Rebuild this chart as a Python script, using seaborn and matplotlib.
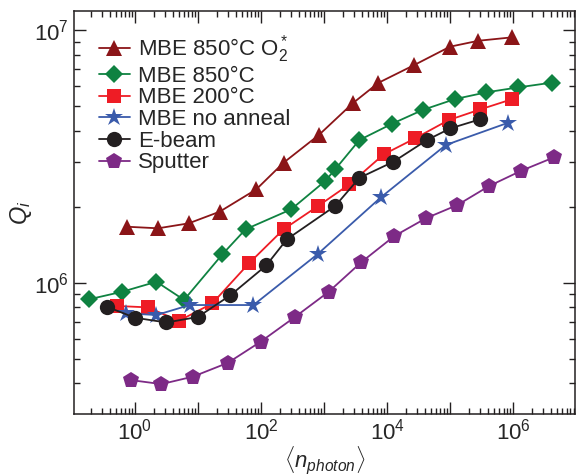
"""Q_i vs mean photon number for several film growth methods"""

import math
import matplotlib
matplotlib.use('Agg')
import matplotlib.pyplot as plt
import matplotlib.ticker as mticker
import seaborn as sns

# Data (x: <n_photon>, y: Q_i) #######################################################
labels = ['MBE 850°C O$_2^*$', 'MBE 850°C', 'MBE 200°C',
          'MBE no anneal', 'E-beam', 'Sputter']

o2_n = [0.74, 2.34, 7.15, 22.1, 84, 228, 824, 2844, 7260, 26900, 98800, 2.8e5, 9.7e5]
o2_q = [1.666e6, 1.642e6, 1.718e6, 1.91e6, 2.34e6, 2.985e6, 3.84e6, 5.13e6,
        6.18e6, 7.27e6, 8.59e6, 9.07e6, 9.36e6]

mbe850_n = [0.189, 0.63, 2.2, 6.03, 24.4, 57, 301, 1040, 1500, 3630, 11800,
            36400, 118600, 3.75e5, 1.2e6, 4.06e6]
mbe850_q = [0.86e6, 0.921e6, 1.009e6, 0.855e6, 1.295e6, 1.627e6, 1.952e6, 2.526e6,
            2.81e6, 3.67e6, 4.25e6, 4.825e6, 5.33e6, 5.67e6, 5.93e6, 6.19e6]

mbe200_n = [0.525, 1.59, 5.02, 16.9, 64.4, 228, 800, 2524, 8810, 27900, 94000,
            2.98e5, 9.68e5]
mbe200_q = [0.809e6, 0.799e6, 0.707e6, 0.828e6, 1.193e6, 1.627e6, 2.01e6, 2.452e6,
            3.22e6, 3.73e6, 4.40e6, 4.85e6, 5.33e6]

noanneal_n = [0.72, 2.2, 7.4, 76, 795, 8000, 85500, 8.36e5]
noanneal_q = [0.757e6, 0.745e6, 0.816e6, 0.816e6, 1.299e6, 2.18e6, 3.51e6, 4.30e6]

ebeam_n = [0.357, 1.0, 3.17, 10.0, 32.7, 121, 257, 1500, 3630, 12530, 42800,
           1.0e5, 2.95e5]
ebeam_q = [0.804e6, 0.727e6, 0.696e6, 0.732e6, 0.892e6, 1.17e6, 1.485e6, 2.012e6,
           2.60e6, 3.01e6, 3.67e6, 4.08e6, 4.43e6]

sputter_n = [0.855, 2.64, 8.36, 29.9, 98.6, 346, 1186, 3865, 13000, 41300,
             130000, 4.14e5, 1.34e6, 4.42e6]
sputter_q = [0.412e6, 0.397e6, 0.425e6, 0.482e6, 0.584e6, 0.732e6, 0.921e6,
             1.204e6, 1.53e6, 1.80e6, 2.03e6, 2.414e6, 2.775e6, 3.135e6]

SERIES = [(o2_n, o2_q), (mbe850_n, mbe850_q), (mbe200_n, mbe200_q),
          (noanneal_n, noanneal_q), (ebeam_n, ebeam_q), (sputter_n, sputter_q)]
COLORS = ['#8b1518', '#0f8241', '#ee1c25', '#3a5bab', '#231f20', '#7d2a86']
MARKERS = ['^', 'D', 's', '*', 'o', 'p']
MSIZES = [12, 9.5, 10.5, 13.5, 11, 12]
XLIM = (0.108, 9.6e6)
YLIM = (3.02e5, 1.19e7)

sns.set_style('ticks')
plt.rcParams['font.family'] = ['Liberation Sans', 'DejaVu Sans']
plt.rcParams['mathtext.fontset'] = 'custom'
plt.rcParams['mathtext.rm'] = 'Liberation Sans'
plt.rcParams['mathtext.it'] = 'Liberation Sans:italic'
plt.rcParams['mathtext.bf'] = 'Liberation Sans:bold'

fig = plt.figure(figsize=(5.77, 4.76), dpi=100)
ax = fig.add_axes([0.128, 0.130, 0.869, 0.847])

# Plot the data ################################################
for (xs, ys), lab, col, mk, ms in zip(SERIES, labels, COLORS, MARKERS, MSIZES):
    sns.lineplot(x=xs, y=ys, ax=ax, color=col, marker=mk, markersize=ms,
                 markeredgewidth=0, linewidth=1.3, label=lab,
                 estimator=None, sort=False)

ax.set_xscale('log')
ax.set_yscale('log')
ax.set_xlim(*XLIM)
ax.set_ylim(*YLIM)


def dec_label(v, lim, step):
    # only label decades inside the view, every `step` decades
    if v < lim[0] or v > lim[1]:
        return ''
    e = round(math.log10(v))
    return '' if e % step else r'$\mathdefault{10^{%d}}$' % e


ax.xaxis.set_major_locator(mticker.LogLocator(base=10, numticks=20))
ax.xaxis.set_minor_locator(mticker.LogLocator(base=10, subs=range(2, 10), numticks=20))
ax.yaxis.set_major_locator(mticker.LogLocator(base=10, numticks=20))
ax.yaxis.set_minor_locator(mticker.LogLocator(base=10, subs=range(2, 10), numticks=20))
ax.xaxis.set_major_formatter(mticker.FuncFormatter(lambda v, p: dec_label(v, XLIM, 2)))
ax.yaxis.set_major_formatter(mticker.FuncFormatter(lambda v, p: dec_label(v, YLIM, 1)))
ax.xaxis.set_minor_formatter(mticker.NullFormatter())
ax.yaxis.set_minor_formatter(mticker.NullFormatter())

ax.tick_params(which='both', direction='in', top=True, right=True,
               labelsize=16, width=1.0, color='#231f20')
ax.tick_params(which='major', length=8.5)
ax.tick_params(which='minor', length=4.5)
for sp in ax.spines.values():
    sp.set_linewidth(1.1)
    sp.set_color('#231f20')

ax.set_xlabel(r'$\langle n_{photon} \rangle$', fontsize=16, labelpad=0)
ax.set_ylabel(r'$Q_i$', fontsize=17, labelpad=0)

# Legend ################################################
handles, labs = ax.get_legend_handles_labels()
ax.legend(handles, labs, loc='upper left', bbox_to_anchor=(0.05, 0.945),
          frameon=False, fontsize=16, borderaxespad=0, borderpad=0,
          handlelength=1.4, handletextpad=0.35, labelspacing=0.03)

fig.savefig('out.png', dpi=100)
plt.close(fig)
